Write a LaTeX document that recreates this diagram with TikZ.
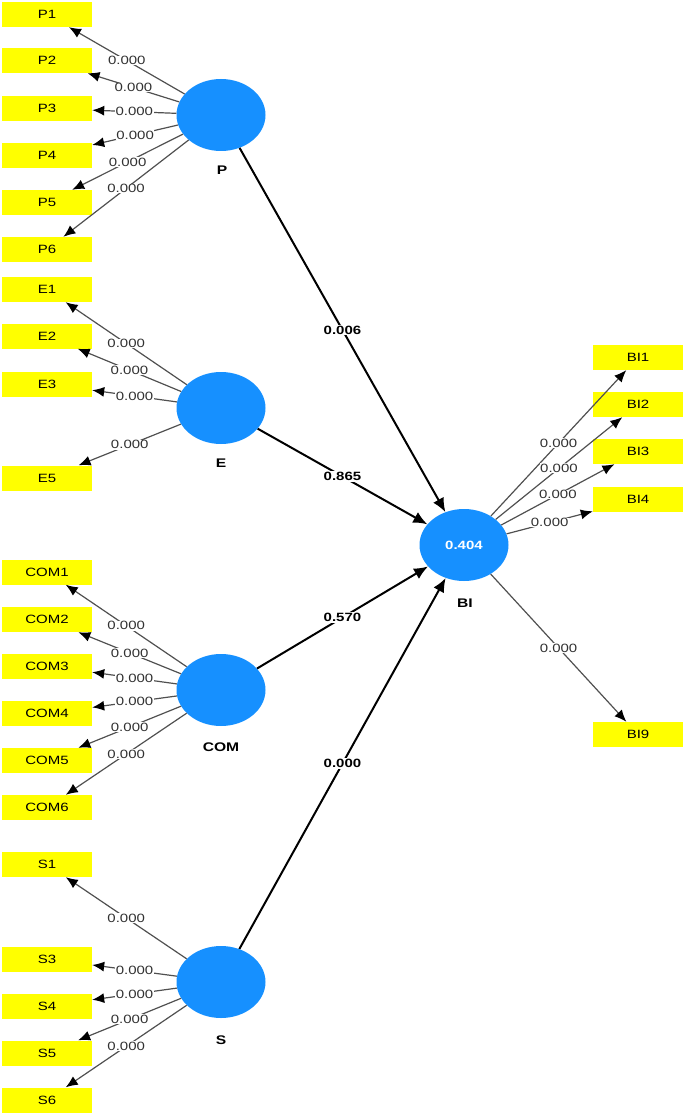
\documentclass[tikz,border=0pt]{standalone}
\usepackage{fontspec}
\setmainfont{Liberation Sans}[FakeStretch=1.25]
\usetikzlibrary{shapes.geometric,arrows.meta}
\definecolor{lvblue}{RGB}{22,144,255}
\definecolor{mvyellow}{RGB}{255,255,0}
\definecolor{loadgray}{RGB}{80,80,80}
\definecolor{labgray}{RGB}{50,50,50}
\begin{document}
\begin{tikzpicture}[x=1pt,y=-1pt,
  lv/.style={ellipse, fill=lvblue, minimum width=89pt, minimum height=72pt, inner sep=0pt},
  mv/.style={rectangle, fill=mvyellow, minimum width=90pt, minimum height=25pt, inner sep=0pt, font=\fontsize{12}{13}\selectfont},
  lvname/.style={font=\fontsize{12.5}{13}\selectfont\bfseries},
  load/.style={draw=loadgray, line width=1.2pt, -{Latex[length=12pt,width=10pt,color=black]}},
  loadlab/.style={fill=white, inner sep=0.6pt, text=labgray, font=\fontsize{12}{13}\selectfont},
  structural/.style={draw=black, line width=2pt, -{Latex[length=14pt,width=12pt]}},
  structlab/.style={fill=white, inner sep=0.8pt, text=black, font=\fontsize{12}{13}\selectfont\bfseries}
]
\useasboundingbox (0,0) rectangle (685,1115);

% latent variables
\node[lv] (P) at (221,115) {};
\node[lvname] (Pn) at (222,170) {P};
\node[lv] (E) at (221,408) {};
\node[lvname] (En) at (221,463) {E};
\node[lv] (COM) at (221,690) {};
\node[lvname] (COMn) at (221,747) {COM};
\node[lv] (S) at (221,982) {};
\node[lvname] (Sn) at (221,1040) {S};
\node[lv, text=white, font=\fontsize{12}{13}\selectfont\bfseries] (BI) at (464,545) {0.404};
\node[lvname] (BIn) at (465,603) {BI};

% indicators
\foreach \n/\y in {P1/14.5,P2/60.5,P3/108.5,P4/155.5,P5/202.5,P6/249.5,
                   E1/289.5,E2/336,E3/384,E5/478,
                   COM1/572,COM2/619.5,COM3/666,COM4/713.5,COM5/760.5,COM6/807.5,
                   S1/864.5,S3/959,S4/1006,S5/1053,S6/1100}
  \node[mv] (\n) at (47,\y) {\n};
\foreach \n/\y in {BI1/357.5,BI2/404.5,BI3/451.5,BI4/499.5,BI9/734.5}
  \node[mv] (\n) at (638,\y) {\n};

% loadings
\foreach \n in {P1,P2,P3,P4,P5,P6}
  \draw[load] (P) -- node[loadlab] {0.000} (\n);
\foreach \n in {E1,E2,E3,E5}
  \draw[load] (E) -- node[loadlab] {0.000} (\n);
\foreach \n in {COM1,COM2,COM3,COM4,COM5,COM6}
  \draw[load] (COM) -- node[loadlab] {0.000} (\n);
\foreach \n in {S1,S3,S4,S5,S6}
  \draw[load] (S) -- node[loadlab] {0.000} (\n);
\foreach \n in {BI1,BI2,BI3,BI4,BI9}
  \draw[load] (BI) -- node[loadlab] {0.000} (\n);

% structural paths
\draw[structural] (P) -- node[structlab] {0.006} (BI);
\draw[structural] (E) -- node[structlab] {0.865} (BI);
\draw[structural] (COM) -- node[structlab] {0.570} (BI);
\draw[structural] (S) -- node[structlab] {0.000} (BI);
\end{tikzpicture}
\end{document}
